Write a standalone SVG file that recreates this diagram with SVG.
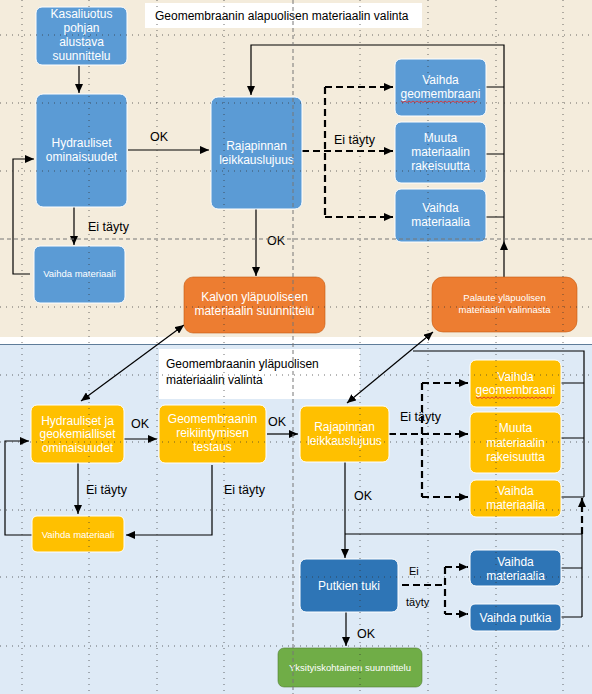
<svg xmlns="http://www.w3.org/2000/svg" width="592" height="694" viewBox="0 0 592 694">
<defs>
<marker id="ah" markerUnits="userSpaceOnUse" markerWidth="10" markerHeight="8" refX="9" refY="4" orient="auto-start-reverse">
<path d="M0,0 L9,4 L0,8 Z" fill="#000"/>
</marker>
</defs>
<style>
text{font-family:"Liberation Sans",Arial,sans-serif;}
.nt{fill:#fff;font-size:12px;text-anchor:middle;}
.ns{fill:#fff;font-size:9.5px;text-anchor:middle;}
.lb{fill:#000;font-size:12.5px;}
.ti{fill:#000;font-size:12px;}
.blue{fill:#5B9BD5;stroke:#fff;stroke-width:1;}
.orange{fill:#ED7D31;stroke:#C55A11;stroke-width:0.6;}
.yellow{fill:#FFC000;stroke:#fff;stroke-width:1;}
.dblue{fill:#2E75B6;stroke:#fff;stroke-width:1;}
.green{fill:#70AD47;stroke:#507E32;stroke-width:0.6;}
.c{fill:none;stroke:#000;stroke-width:1.2;}
.d{fill:none;stroke:#000;stroke-width:2.2;stroke-dasharray:7 4;}
.grid{stroke:#333;stroke-width:1;stroke-dasharray:1 5;opacity:0.7;}
.pb{stroke:#777;stroke-width:1;stroke-dasharray:4 3;}
.sq{fill:none;stroke:#E03030;stroke-width:0.9;}
</style>

<!-- backgrounds -->
<rect x="0" y="0" width="592" height="337" fill="#F4ECDC"/>
<rect x="0" y="337" width="592" height="7" fill="#FFFFFF"/>
<rect x="0" y="344" width="592" height="350" fill="#DEEAF6"/>
<line x1="0" y1="344.5" x2="592" y2="344.5" stroke="#5E7C99" stroke-width="1.2"/>

<!-- titles -->
<g id="title-top">
<rect x="145" y="3" width="277" height="25" fill="#fff"/>
<text class="ti" x="155" y="20">Geomembraanin alapuolisen materiaalin valinta</text>
</g>
<g id="title-bottom">
<rect x="159" y="349" width="201" height="50" fill="#fff"/>
<text class="ti" x="166" y="368">Geomembraanin yläpuolisen</text>
<text class="ti" x="166" y="384">materiaalin valinta</text>
</g>

<!-- connectors -->
<g id="connectors">
<path class="c" d="M79,66 V93" marker-end="url(#ah)"/>
<path class="c" d="M128,150 H209" marker-end="url(#ah)"/>
<path class="c" d="M30,274 H13 V159 H34" marker-end="url(#ah)"/>
<path class="c" d="M74,207 V245" marker-end="url(#ah)"/>
<path class="c" d="M256,209 V276" marker-end="url(#ah)"/>
<path class="d" d="M302,151 H393" marker-end="url(#ah)"/>
<path class="d" d="M325,87 H393" marker-end="url(#ah)"/>
<path class="d" d="M325,217 H393" marker-end="url(#ah)"/>
<path class="d" d="M325,87 V217"/>
<path class="c" d="M486,87 H504 M486,154 H504 M486,217 H504"/>
<path class="c" d="M504,241 V45 H251 V95" marker-end="url(#ah)"/>
<path class="c" d="M504,277 V241" marker-end="url(#ah)"/>
<path class="c" d="M184,325 L81,401" marker-start="url(#ah)" marker-end="url(#ah)"/>
<path class="c" d="M433,332 L347,403" marker-start="url(#ah)" marker-end="url(#ah)"/>

<path class="c" d="M124,439 H157" marker-end="url(#ah)"/>
<path class="c" d="M267,434 H298" marker-end="url(#ah)"/>
<path class="c" d="M78,463 V514" marker-end="url(#ah)"/>
<path class="c" d="M212,465 V535 H126" marker-end="url(#ah)"/>
<path class="c" d="M32,535 H5 V441 H29" marker-end="url(#ah)"/>
<path class="d" d="M389,434 H468" marker-end="url(#ah)"/>
<path class="d" d="M422,383 H468" marker-end="url(#ah)"/>
<path class="d" d="M422,497 H468" marker-end="url(#ah)"/>
<path class="d" d="M422,383 V497"/>
<path class="c" d="M561,383 H584 M561,438 H584 M561,497 H584"/>
<path class="c" d="M584,497 V351 H413"/>
<path class="c" d="M345,462 V558" marker-end="url(#ah)"/>
<path class="c" d="M582,617 V534 H345"/>
<path class="d" d="M582,534 V498" marker-end="url(#ah)"/>
<path class="c" d="M561,568 H582 M561,617 H582"/>
<path class="c" d="M346,612 V646" marker-end="url(#ah)"/>
<path class="d" d="M402,585 H445"/>
<path class="d" d="M445,567 V614"/>
<path class="d" d="M445,567 H468" marker-end="url(#ah)"/>
<path class="d" d="M445,614 H468" marker-end="url(#ah)"/>

<text class="lb" x="159" y="141" text-anchor="middle">OK</text>
<text class="lb" x="88" y="231">Ei täyty</text>
<text class="lb" x="267" y="245">OK</text>
<text class="lb" x="334" y="144">Ei täyty</text>
<text class="lb" x="140" y="428" text-anchor="middle">OK</text>
<text class="lb" x="277" y="426" text-anchor="middle">OK</text>
<text class="lb" x="86" y="494">Ei täyty</text>
<text class="lb" x="224" y="494">Ei täyty</text>
<text class="lb" x="400" y="421">Ei täyty</text>
<text class="lb" x="354" y="500">OK</text>
<text class="lb" x="357" y="638">OK</text>
<text class="lb" x="409" y="575" style="font-size:11px">Ei</text>
<text class="lb" x="406" y="606" style="font-size:11px">täyty</text>
</g>

<!-- top section nodes -->
<g id="kasaliuotus">
<rect class="blue" x="36" y="7" width="91" height="58" rx="6"/>
<text class="nt" x="81.5" y="18">Kasaliuotus</text>
<text class="nt" x="81.5" y="32">pohjan</text>
<text class="nt" x="81.5" y="46">alustava</text>
<text class="nt" x="81.5" y="60">suunnittelu</text>
</g>
<g id="hydrauliset-top">
<rect class="blue" x="36" y="94" width="91" height="113" rx="7"/>
<text class="nt" x="81.5" y="147">Hydrauliset</text>
<text class="nt" x="81.5" y="161">ominaisuudet</text>
</g>
<g id="rajapinnan-top">
<rect class="blue" x="211" y="97" width="91" height="112" rx="7"/>
<text class="nt" x="256.5" y="150">Rajapinnan</text>
<text class="nt" x="256.5" y="164">leikkauslujuus</text>
</g>
<g id="vaihda-geomembraani-top">
<rect class="blue" x="395" y="59" width="91" height="57" rx="6"/>
<text class="nt" x="440.5" y="84">Vaihda</text>
<text class="nt" x="440.5" y="98">geomembraani</text>
<path class="sq" d="M401,101 l2,1.5 l2,-1.5 l2,1.5 l2,-1.5 l2,1.5 l2,-1.5 l2,1.5 l2,-1.5 l2,1.5 l2,-1.5 l2,1.5 l2,-1.5 l2,1.5 l2,-1.5 l2,1.5 l2,-1.5 l2,1.5 l2,-1.5 l2,1.5 l2,-1.5 l2,1.5 l2,-1.5 l2,1.5 l2,-1.5 l2,1.5 l2,-1.5 l2,1.5 l2,-1.5 l2,1.5 l2,-1.5 l2,1.5 l2,-1.5 l2,1.5 l2,-1.5 l2,1.5 l2,-1.5 l2,1.5 l2,-1.5"/>
</g>
<g id="muuta-top">
<rect class="blue" x="395" y="122" width="91" height="61" rx="6"/>
<text class="nt" x="440.5" y="142">Muuta</text>
<text class="nt" x="440.5" y="156">materiaalin</text>
<text class="nt" x="440.5" y="170">rakeisuutta</text>
</g>
<g id="vaihda-materiaalia-top">
<rect class="blue" x="395" y="189" width="91" height="53" rx="6"/>
<text class="nt" x="440.5" y="212">Vaihda</text>
<text class="nt" x="440.5" y="226">materiaalia</text>
</g>
<g id="vaihda-materiaali-top">
<rect class="blue" x="34" y="246" width="91" height="57" rx="6"/>
<text class="ns" x="79.5" y="277">Vaihda materiaali</text>
</g>
<g id="kalvon">
<rect class="orange" x="184" y="277" width="141" height="56" rx="9"/>
<text class="nt" x="254.5" y="301">Kalvon yläpuoliseen</text>
<text class="nt" x="254.5" y="315">materiaalin suunnittelu</text>
</g>
<g id="palaute">
<rect class="orange" x="432" y="277" width="145" height="55" rx="11"/>
<text class="ns" x="504.5" y="301">Palaute yläpuolisen</text>
<text class="ns" x="504.5" y="313">materiaalin valinnasta</text>
</g>

<!-- bottom section nodes -->
<g id="hydrauliset-bottom">
<rect class="yellow" x="31" y="405" width="93" height="58" rx="6"/>
<text class="nt" x="77.5" y="425">Hydrauliset ja</text>
<text class="nt" x="77.5" y="438">geokemialliset</text>
<text class="nt" x="77.5" y="452">ominaisuudet</text>
</g>
<g id="reikiintyminen">
<rect class="yellow" x="159" y="405" width="107" height="58" rx="6"/>
<text class="nt" x="212.5" y="423">Geomembraanin</text>
<text class="nt" x="212.5" y="437">reikiintymisen</text>
<text class="nt" x="212.5" y="451">testaus</text>
</g>
<g id="vaihda-materiaali-bottom">
<rect class="yellow" x="32" y="516" width="92" height="36" rx="5"/>
<text class="ns" x="78" y="538">Vaihda materiaali</text>
</g>
<g id="rajapinnan-bottom">
<rect class="yellow" x="300" y="406" width="89" height="56" rx="6"/>
<text class="nt" x="344.5" y="431">Rajapinnan</text>
<text class="nt" x="344.5" y="445">leikkauslujuus</text>
</g>
<g id="vaihda-geomembraani-bottom">
<rect class="yellow" x="470" y="360" width="91" height="47" rx="6"/>
<text class="nt" x="515.5" y="381">Vaihda</text>
<text class="nt" x="515.5" y="394">geomembraani</text>
<path class="sq" d="M476,397 l2,1.5 l2,-1.5 l2,1.5 l2,-1.5 l2,1.5 l2,-1.5 l2,1.5 l2,-1.5 l2,1.5 l2,-1.5 l2,1.5 l2,-1.5 l2,1.5 l2,-1.5 l2,1.5 l2,-1.5 l2,1.5 l2,-1.5 l2,1.5 l2,-1.5 l2,1.5 l2,-1.5 l2,1.5 l2,-1.5 l2,1.5 l2,-1.5 l2,1.5 l2,-1.5 l2,1.5 l2,-1.5 l2,1.5 l2,-1.5 l2,1.5 l2,-1.5 l2,1.5 l2,-1.5 l2,1.5 l2,-1.5"/>
</g>
<g id="muuta-bottom">
<rect class="yellow" x="470" y="412" width="91" height="61" rx="6"/>
<text class="nt" x="515.5" y="432">Muuta</text>
<text class="nt" x="515.5" y="447">materiaalin</text>
<text class="nt" x="515.5" y="461">rakeisuutta</text>
</g>
<g id="vaihda-materiaalia-bottom">
<rect class="yellow" x="470" y="480" width="91" height="37" rx="6"/>
<text class="nt" x="515.5" y="495">Vaihda</text>
<text class="nt" x="515.5" y="509">materiaalia</text>
</g>
<g id="putkien-tuki">
<rect class="dblue" x="300" y="559" width="98" height="53" rx="6"/>
<text class="nt" x="349" y="590">Putkien tuki</text>
</g>
<g id="vaihda-materiaalia-putki">
<rect class="dblue" x="470" y="550" width="91" height="36" rx="6"/>
<text class="nt" x="515.5" y="566">Vaihda</text>
<text class="nt" x="515.5" y="580">materiaalia</text>
</g>
<g id="vaihda-putkia">
<rect class="dblue" x="470" y="604" width="91" height="27" rx="5"/>
<text class="nt" x="515.5" y="622">Vaihda putkia</text>
</g>
<g id="yksityiskohtainen">
<rect class="green" x="278" y="648" width="144" height="39" rx="6"/>
<text class="ns" x="350" y="671">Yksityiskohtainen suunnittelu</text>
</g>

<!-- grid overlay -->
<g id="grid">
<line class="grid" x1="22" y1="0" x2="22" y2="694"/>
<line class="grid" x1="89" y1="0" x2="89" y2="694"/>
<line class="grid" x1="157" y1="0" x2="157" y2="694"/>
<line class="grid" x1="224" y1="0" x2="224" y2="694"/>
<line class="grid" x1="360" y1="0" x2="360" y2="694"/>
<line class="grid" x1="428" y1="0" x2="428" y2="694"/>
<line class="grid" x1="496" y1="0" x2="496" y2="694"/>
<line class="grid" x1="563" y1="0" x2="563" y2="694"/>
<line class="grid" x1="0" y1="35" x2="592" y2="35"/>
<line class="grid" x1="0" y1="103" x2="592" y2="103"/>
<line class="grid" x1="0" y1="171" x2="592" y2="171"/>
<line class="grid" x1="0" y1="307" x2="592" y2="307"/>
<line class="grid" x1="0" y1="375" x2="592" y2="375"/>
<line class="grid" x1="0" y1="442" x2="592" y2="442"/>
<line class="grid" x1="0" y1="510" x2="592" y2="510"/>
<line class="grid" x1="0" y1="577" x2="592" y2="577"/>
<line class="grid" x1="0" y1="646" x2="592" y2="646"/>
<line class="pb" x1="293" y1="0" x2="293" y2="694"/>
<line class="pb" x1="0" y1="239" x2="592" y2="239"/>
</g>
</svg>
